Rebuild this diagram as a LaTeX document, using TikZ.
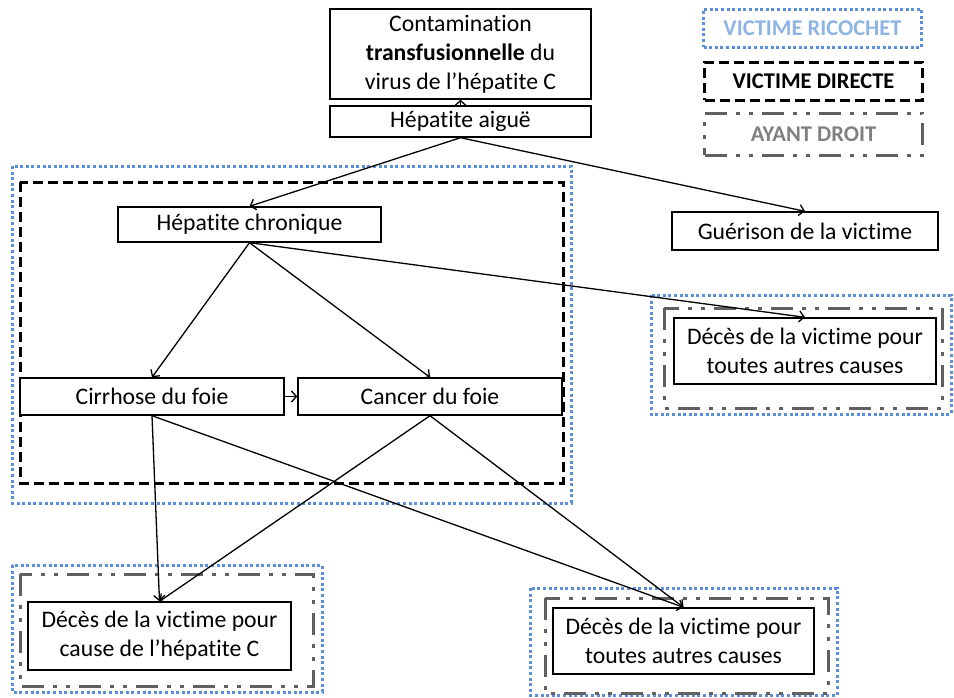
\documentclass[tikz,border=0pt]{standalone}
\usepackage{fontspec}
\setmainfont{Carlito}[Ligatures={NoCommon}]
\usetikzlibrary{arrows.meta, positioning}
\definecolor{ricoblue}{HTML}{5B8FD9}
\definecolor{ricotext}{HTML}{8DB4E2}
\definecolor{droitgray}{HTML}{606060}
\definecolor{droittext}{HTML}{808080}

\begin{document}
\begin{tikzpicture}[
    x=1pt, y=-1pt,
    box/.style={rectangle, draw=black, line width=1.4pt, fill=white, align=center, inner sep=0pt, font=\fontsize{23.7}{29}\selectfont},
    legend/.style={rectangle, inner sep=0pt, minimum width=218pt, font=\bfseries\fontsize{22.5}{26}\selectfont},
    ricochet/.style={draw=ricoblue, line width=3pt, dash pattern=on 3pt off 2.6pt},
    directe/.style={draw=black, line width=3pt, dash pattern=on 10pt off 5pt},
    droit/.style={draw=droitgray, line width=3pt, dash pattern=on 22pt off 9pt on 4pt off 9pt on 4pt off 9pt},
    arrow/.style={-{Straight Barb[length=5pt, width=11pt]}, line width=1.3pt}
  ]
  \useasboundingbox (0,0) rectangle (954,697);

  % frames
  \draw[ricochet] (12,166) rectangle (571,503);
  \draw[directe] (20,182) rectangle (563,483);
  \draw[ricochet] (651,295) rectangle (951,414);
  \draw[droit] (664,308) rectangle (942,408);
  \draw[ricochet] (12,565) rectangle (322,692);
  \draw[droit] (20,574) rectangle (313,686);
  \draw[ricochet] (530,588) rectangle (837,695);
  \draw[droit] (545,598) rectangle (828,693);

  % legend
  \node[legend, ricochet, text=ricotext, minimum height=38pt] (legRicochet) at (812.5,28) {VICTIME RICOCHET};
  \node[legend, directe, minimum height=38pt] (legDirecte) at (813.5,81) {VICTIME DIRECTE};
  \node[legend, droit, text=droittext, minimum height=42pt] (legDroit) at (813.5,134) {AYANT DROIT};

  % boxes
  \node[box, minimum width=261pt, minimum height=90pt] (contam) at (460.5,54) {Contamination\\\textbf{transfusionnelle} du\\virus de l'hépatite C};
  \node[box, minimum width=261pt, minimum height=31pt] (aigue) at (460.5,121.5) {Hépatite aiguë};
  \node[box, minimum width=263pt, minimum height=35pt] (chronique) at (249.5,224.5) {Hépatite chronique};
  \node[box, minimum width=266pt, minimum height=38pt] (guerison) at (805,231) {Guérison de la victime};
  \node[box, minimum width=264pt, minimum height=37pt] (cirrhose) at (152,396.5) {Cirrhose du foie};
  \node[box, minimum width=264pt, minimum height=37pt] (cancer) at (430,396.5) {Cancer du foie};
  \node[box, minimum width=262pt, minimum height=66pt] (decesAutre) at (805,351) {Décès de la victime pour\\toutes autres causes};
  \node[box, minimum width=263pt, minimum height=68pt] (decesHep) at (159.5,636) {Décès de la victime pour\\cause de l'hépatite C};
  \node[box, minimum width=261pt, minimum height=66pt] (decesFin) at (683.5,641) {Décès de la victime pour\\toutes autres causes};

  % links
  \draw[arrow] (aigue.north) -- (contam.south);
  \draw[arrow] (aigue.south) -- (chronique.north);
  \draw[arrow] (aigue.south) -- (guerison.north);
  \draw[arrow] (chronique.south) -- (cirrhose.north);
  \draw[arrow] (chronique.south) -- (cancer.north);
  \draw[arrow] (chronique.south) -- (decesAutre.north);
  \draw[arrow] (cirrhose.east) -- (cancer.west);
  \draw[arrow] (cirrhose.south) -- (decesHep.north);
  \draw[arrow] (cirrhose.south) -- (decesFin.north);
  \draw[arrow] (cancer.south) -- (decesHep.north);
  \draw[arrow] (cancer.south) -- (decesFin.north);
\end{tikzpicture}
\end{document}
